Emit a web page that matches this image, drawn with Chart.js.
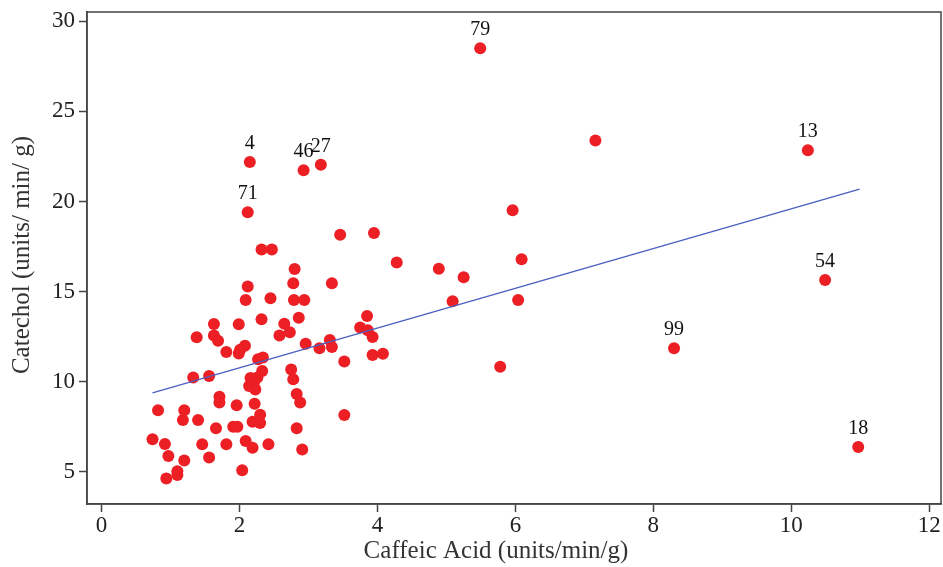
<!DOCTYPE html>
<html>
<head>
<meta charset="utf-8">
<script src="https://cdn.jsdelivr.net/npm/chart.js@4/dist/chart.umd.min.js"></script>
<style>
  html,body{margin:0;padding:0;background:#fff;}
  #wrap{width:943px;height:567px;}
</style>
</head>
<body>
<div id="wrap"><canvas id="c" width="943" height="567"></canvas></div>
<script>
// ---- data ----
const caffeicAcid = [
  5.49, 2.15, 2.93, 3.18, 2.12, 10.24, 10.49, 8.30, 10.97,
  7.16, 5.96, 6.09, 4.89, 5.25, 5.09, 6.04, 5.78, 4.28, 3.46, 3.95,
  2.32, 2.47, 2.80, 2.78, 3.34, 2.12, 2.09, 2.45, 2.79, 2.94,
  1.63, 1.99, 2.32, 2.65, 2.86, 2.58, 2.73, 1.38, 1.63, 1.69,
  1.81, 2.08, 2.01, 1.99, 2.27, 2.34, 2.96, 3.16, 3.31, 3.34,
  3.52, 3.85, 3.75, 3.86, 3.93, 3.93, 4.08, 1.33, 1.56, 2.33,
  2.16, 2.26, 2.21, 2.14, 2.23, 2.75, 2.78, 2.83, 2.88, 1.71,
  1.71, 1.96, 2.22, 0.82, 1.20, 1.18, 1.40, 2.30, 2.19, 2.30,
  3.52, 1.66, 1.91, 1.97, 2.83, 0.74, 0.92, 1.46, 1.81, 2.09,
  2.19, 2.42, 2.91, 0.97, 1.20, 1.56, 1.10, 1.10, 0.94, 2.04
];
const catechol = [
  28.51, 22.20, 21.74, 22.04, 19.41, 22.85, 15.64, 11.86, 6.37,
  23.39, 19.51, 16.80, 16.27, 15.80, 14.46, 14.53, 10.83, 16.62, 18.15, 18.25,
  17.34, 17.34, 16.25, 15.46, 15.46, 15.28, 14.54, 14.63, 14.54, 14.54,
  13.20, 13.19, 13.46, 13.21, 13.55, 12.56, 12.74, 12.46, 12.56, 12.27,
  11.65, 12.00, 11.77, 11.57, 11.25, 11.34, 12.10, 11.85, 12.31, 11.92,
  11.12, 13.64, 13.01, 12.86, 12.48, 11.48, 11.55, 10.23, 10.31, 10.59,
  10.20, 10.23, 9.95, 9.76, 9.56, 10.68, 10.13, 9.32, 8.84, 9.16,
  8.84, 8.69, 8.77, 8.41, 8.41, 7.87, 7.87, 8.16, 7.77, 7.70,
  8.15, 7.41, 7.50, 7.50, 7.41, 6.80, 6.54, 6.52, 6.53, 6.71,
  6.33, 6.53, 6.24, 5.88, 5.62, 5.79, 5.03, 4.82, 4.63, 5.08
];
const pointIds = ['79','4','46','27','71','13','54','99','18'];
const trendX = [0.74, 10.99];
const trendY = [9.38, 20.69];
const xTicks = [0, 2, 4, 6, 8, 10, 12];
const yTicks = [5, 10, 15, 20, 25, 30];
const xTitle = 'Caffeic Acid (units/min/g)';
const yTitle = 'Catechol (units/ min/ g)';

// ---- build ----
const pts = caffeicAcid.map((x, i) => ({x: x, y: catechol[i]}));
const trend = trendX.map((x, i) => ({x: x, y: trendY[i]}));
const SERIF = "'Liberation Serif', 'Times New Roman', serif";

const framePlugin = {
  id: 'frame',
  afterDatasetsDraw(chart) {
    const {ctx, chartArea: a} = chart;
    ctx.save();
    ctx.strokeStyle = '#444';
    ctx.lineWidth = 1.5;
    ctx.strokeRect(a.left, a.top, a.right - a.left, a.bottom - a.top);
    ctx.restore();
  }
};
const labelPlugin = {
  id: 'ptlabels',
  afterDatasetsDraw(chart) {
    const meta = chart.getDatasetMeta(1);
    const ctx = chart.ctx;
    ctx.save();
    ctx.font = '20px ' + SERIF;
    ctx.fillStyle = '#111';
    ctx.textAlign = 'center';
    ctx.textBaseline = 'middle';
    pointIds.forEach((t, i) => {
      const el = meta.data[i];
      if (el) ctx.fillText(t, el.x, el.y - 18);
    });
    ctx.restore();
  }
};
const titlePlugin = {
  id: 'axtitles',
  afterDraw(chart) {
    const {ctx, chartArea: a} = chart;
    ctx.save();
    ctx.font = '25px ' + SERIF;
    ctx.fillStyle = '#333';
    ctx.textAlign = 'center';
    ctx.textBaseline = 'middle';
    ctx.fillText(xTitle, (a.left + a.right) / 2 - 18, a.bottom + 47);
    ctx.translate(a.left - 65, (a.top + a.bottom) / 2 - 3);
    ctx.rotate(-Math.PI / 2);
    ctx.fillText(yTitle, 0, 0);
    ctx.restore();
  }
};

new Chart(document.getElementById('c'), {
  type: 'scatter',
  data: {
    datasets: [
      {
        type: 'line', data: trend, borderColor: '#4b5fc0', borderWidth: 1.4,
        pointRadius: 0, fill: false, tension: 0
      },
      {
        data: pts, backgroundColor: '#ec1f25', borderColor: '#ec1f25',
        borderWidth: 0, pointRadius: 6, pointHoverRadius: 6
      }
    ]
  },
  options: {
    responsive: false,
    animation: false,
    devicePixelRatio: 1,
    layout: {autoPadding: false, padding: {top: 12, right: 2, left: 0, bottom: 0}},
    plugins: {legend: {display: false}, tooltip: {enabled: false}},
    scales: {
      x: {
        type: 'linear', min: -0.21, max: 12.17,
        afterBuildTicks: s => { s.ticks = xTicks.map(v => ({value: v})); },
        afterFit: s => { s.height = 63; s.paddingLeft = 0; s.paddingRight = 0; },
        grid: {drawOnChartArea: false, drawTicks: true, tickLength: 8, tickColor: '#444', tickWidth: 1.5},
        border: {display: true, color: '#444', width: 1.5},
        ticks: {color: '#222', font: {family: SERIF, size: 23}, padding: 0, maxRotation: 0},
        title: {display: false}
      },
      y: {
        type: 'linear', min: 3.21, max: 30.52,
        afterBuildTicks: s => { s.ticks = yTicks.map(v => ({value: v})); },
        afterFit: s => { s.width = 87; s.paddingTop = 0; s.paddingBottom = 0; },
        grid: {drawOnChartArea: false, drawTicks: true, tickLength: 8, tickColor: '#444', tickWidth: 1.5},
        border: {display: true, color: '#444', width: 1.5},
        ticks: {color: '#222', font: {family: SERIF, size: 23}, padding: 4},
        title: {display: false}
      }
    }
  },
  plugins: [framePlugin, labelPlugin, titlePlugin]
});
</script>
</body>
</html>
